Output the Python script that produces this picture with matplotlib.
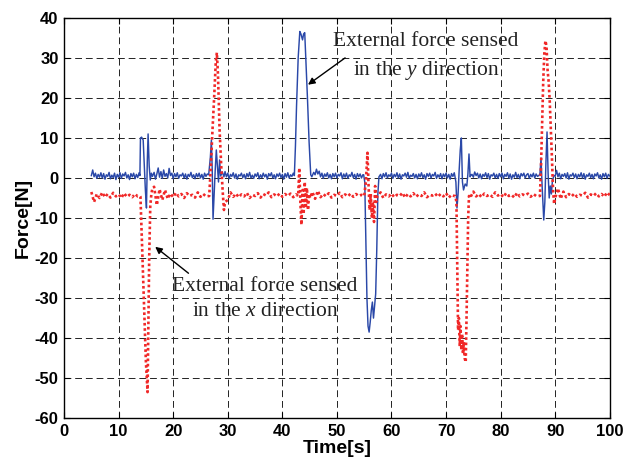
import numpy as np
import matplotlib
matplotlib.use("Agg")
import matplotlib.pyplot as plt

plt.rcParams['mathtext.fontset'] = 'custom'
plt.rcParams['mathtext.rm'] = 'Liberation Serif'
plt.rcParams['mathtext.it'] = 'Liberation Serif:italic'

nan = np.nan

# ---------------- data ----------------
# baseline of the y-direction force, every 0.25 s from 5 s to 100 s
# (nan = covered by an event listed further below)
base_time_y = np.arange(5.0, 100.001, 0.25)
base_force_y = [
    0.6, 2.0, 0.3, 1.2, -0.1, 0.9, 0.2, 1.3, 0.0, 1.1, -0.3, 0.8, 0.4, 1.4, -0.2, 0.7, 0.1, 1.2, -0.4, 0.9,
    0.2, 1.3, -0.1, 1.0, 0.5, 1.4, 0.0, 0.8, -0.4, 1.1, 0.3, 1.2, -0.2, 0.9, 0.1, 1.3, nan, nan, nan, nan,
    nan, nan, nan, nan, nan, 0.5, 1.4, -0.3, 1.0, 2.5, 0.2, 1.6, -0.1, 2.0, 0.4, 1.1, 0.0, 2.4, 0.6, 1.2,
    -0.2, 1.1, 0.3, 1.3, -0.1, 0.8, 0.5, 1.2, 0.0, 1.0, -0.3, 0.9, 0.4, 1.4, 0.1, 0.8, -0.2, 1.1, 0.3, 1.2,
    0.0, 0.9, -0.3, 1.2, 0.4, 1.0, nan, nan, nan, nan, nan, nan, nan, nan, nan, nan, nan, nan, 1.6, 0.3,
    1.2, -0.2, 0.9, 0.4, 1.3, 0.0, 1.0, -0.3, 0.8, 0.5, 1.2, 0.1, 0.9, -0.2, 1.1, 0.3, 1.4, 0.0, 0.7, -0.1,
    1.0, 0.4, 1.3, -0.2, 0.8, 0.1, 1.2, 0.3, 0.9, -0.3, 1.1, 0.5, 1.3, 0.0, 0.8, -0.2, 1.0, 0.4, 1.2, 0.1,
    0.9, -0.3, 1.1, 0.2, 1.3, 0.0, 0.8, 0.4, 1.2, nan, nan, nan, nan, nan, nan, nan, nan, nan, nan, nan,
    nan, nan, 0.6, 1.4, 0.8, 2.2, 1.0, 1.7, 0.3, 1.2, -0.1, 1.0, 0.4, 1.3, 0.0, 0.9, -0.2, 1.1, 0.3, 1.2,
    0.0, 0.9, 0.5, 1.3, -0.2, 1.0, 0.2, 1.2, -0.1, 0.8, 0.4, 1.4, 0.1, 0.9, -0.3, 1.1, 0.3, 1.0, 0.0, 0.8,
    nan, nan, nan, nan, nan, nan, nan, nan, nan, nan, nan, nan, 0.9, -0.2, 1.1, 0.3, 1.3, 0.0, 0.8, 0.4,
    1.2, -0.1, 0.9, 0.3, 1.3, 0.0, 1.0, -0.3, 0.8, 0.5, 1.2, 0.2, 1.4, -0.1, 0.7, 0.4, 1.1, 0.0, 0.9, -0.2,
    1.0, 0.3, 1.3, 0.1, 0.8, -0.3, 1.1, 0.4, 1.2, 0.0, 0.9, 0.5, 1.4, -0.1, 0.8, 0.2, 1.1, -0.2, 1.0, 0.3,
    1.2, 0.0, 0.9, -0.3, 1.1, 0.4, 1.3, nan, nan, nan, nan, nan, nan, nan, nan, nan, nan, nan, nan, 0.9,
    0.2, 1.5, 0.6, 1.2, 0.0, 1.0, -0.2, 0.9, 0.4, 1.3, 0.1, 1.1, -0.3, 0.8, 0.5, 1.2, 0.0, 0.9, -0.1, 1.1,
    0.3, 1.2, -0.2, 0.9, 0.4, 1.3, 0.0, 1.0, -0.3, 0.8, 0.2, 1.4, 0.1, 0.9, -0.2, 1.1, 0.5, 1.2, 0.0, 0.8,
    1.1, -0.1, 0.9, 0.3, 1.2, 0.0, 1.0, 0.4, nan, nan, nan, nan, nan, nan, nan, nan, nan, nan, nan, nan,
    0.5, 1.9, 0.3, 1.2, -0.2, 0.9, 0.4, 1.1, 0.0, 1.3, -0.3, 0.8, 0.5, 1.2, 0.1, 1.0, -0.2, 0.9, 0.3, 1.3,
    0.0, 1.1, -0.3, 0.8, 0.4, 1.2, 0.1, 0.9, -0.2, 1.0, 0.5, 1.3, 0.0, 0.8, -0.3, 1.1, 0.3, 1.2, -0.1, 0.9,
    0.5,
]

# baseline of the x-direction force, every 0.5 s from 5 s to 100 s
base_time_x = np.arange(5.0, 100.01, 0.5)
base_force_x = [
    -3.5, -6.0, -4.0, -5.0, -3.6, -4.8, -4.0, -4.9, -3.7, -4.6,
    -4.1, -5.0, -3.8, -4.7, -4.2, -4.8, -4.0, -4.6, nan, nan,
    nan, nan, nan, -2.2, -6.8, -2.8, -5.5, -3.0, -5.2, -3.9,
    -4.8, -3.7, -4.6, -4.0, -5.0, -3.8, -4.5, -4.2, -4.9, -3.6,
    -4.7, -4.0, -4.6, nan, nan, nan, nan, nan, nan, nan,
    -5.5, -3.6, -4.7, -3.9, -4.8, -4.1, -4.6, -3.7, -5.0, -4.2,
    -4.5, -3.8, -4.9, -4.0, -4.4, -3.6, -4.8, -4.1, -4.6, -3.9,
    -4.7, -4.0, -4.5, -3.9, -4.8, -4.1, nan, nan, nan, nan,
    nan, -3.5, -5.2, -3.2, -4.8, -4.0, -4.6, -3.8, -4.9, -4.2,
    -4.5, -3.7, -4.8, -4.1, -4.6, -3.9, -4.7, -4.0, -4.5, -4.2,
    nan, nan, nan, nan, nan, nan, -3.6, -5.0, -4.1, -4.6,
    -3.9, -4.8, -4.2, -4.5, -3.7, -4.9, -4.0, -4.6, -3.8, -4.7,
    -4.1, -4.5, -3.6, -4.8, -4.2, -4.4, -3.9, -4.7, -4.0, -4.6,
    -3.8, -4.9, -4.2, -4.5, nan, nan, nan, nan, nan, nan,
    -3.4, -4.6, -4.0, -4.8, -3.9, -4.5, -4.1, -4.7, -3.6, -4.4,
    -4.0, -4.8, -3.8, -4.5, -4.2, -4.9, -3.7, -4.6, -4.1, -4.4,
    -3.9, -4.7, -4.0, -4.5, nan, nan, nan, nan, nan, nan,
    -3.6, -2.6, -5.2, -3.4, -4.8, -4.0, -4.6, -3.9, -4.7, -4.2,
    -4.4, -3.7, -4.9, -4.1, -4.5, -3.8, -4.6, -4.0, -4.7, -3.6,
    -4.3,
]

# events: force sensed in the y direction (blue)
ev_y_time = [
    [13.9, 14.0, 14.2, 14.5, 14.7, 14.9, 15.1, 15.25, 15.4, 15.6, 15.8, 16.0, 16.2],
    [26.5, 26.8, 27.0, 27.15, 27.3, 27.5, 27.7, 27.9, 28.1, 28.3, 28.5, 28.7, 29.0, 29.3],
    [42.2, 42.4, 42.6, 42.9, 43.2, 43.4, 43.7, 43.9, 44.1, 44.3, 44.6, 44.9, 45.2, 45.4],
    [54.9, 55.1, 55.3, 55.5, 55.7, 55.9, 56.1, 56.3, 56.5, 56.7, 56.9, 57.1, 57.3, 57.5, 57.7],
    [71.6, 71.8, 72.0, 72.2, 72.4, 72.6, 72.8, 73.0, 73.2, 73.5, 73.8, 74.0, 74.2, 74.4, 74.6],
    [87.0, 87.2, 87.4, 87.6, 87.9, 88.1, 88.3, 88.5, 88.7, 88.9, 89.1, 89.3, 89.5, 89.8],
]
ev_y_force = [
    [0.6, 10.0, 10.2, 9.5, 3.0, -3.0, -7.5, 4.0, 11.0, 3.0, -0.5, 1.2, 0.4],
    [0.8, 5.0, 9.5, 2.0, -10.3, -4.0, 2.0, 7.0, 3.0, -1.0, 4.5, 0.5, 1.5, 0.3],
    [0.6, 8.0, 18.0, 30.0, 36.6, 36.0, 34.5, 36.0, 36.3, 30.0, 20.0, 9.0, 0.8, 0.3],
    [0.8, -1.0, -16.0, -30.0, -37.0, -38.5, -36.0, -33.0, -31.0, -35.0, -32.0, -29.0, -18.0, -4.0, 0.3],
    [0.6, -1.0, -7.5, -4.0, 2.0, 7.0, 10.0, -1.0, -3.0, -1.5, -2.0, 1.0, 6.0, 0.3, 0.8],
    [0.6, 1.0, 5.0, -2.0, -10.5, -6.0, 4.0, 11.5, 1.0, -5.0, -2.0, -4.0, -0.5, 0.6],
]

# events: force sensed in the x direction (red)
ev_x_time = [
    [13.9, 14.0, 14.3, 14.7, 15.0, 15.3, 15.45, 15.6, 15.8, 16.0, 16.2],
    [26.6, 26.9, 27.2, 27.5, 27.8, 28.0, 28.2, 28.5, 28.8, 29.1, 29.3, 29.5],
    [42.9, 43.1, 43.3, 43.5, 43.7, 43.9, 44.1, 44.3, 44.5, 44.7, 44.9, 45.1],
    [55.0, 55.3, 55.6, 55.8, 56.0, 56.2, 56.4, 56.6, 56.8, 57.0, 57.2, 57.4],
    [71.7, 71.9, 72.05, 72.2, 72.35, 72.5, 72.65, 72.8, 72.95, 73.1, 73.25, 73.4,
     73.6, 73.75, 73.9, 74.05, 74.2, 74.4],
    [87.0, 87.2, 87.4, 87.6, 87.8, 88.0, 88.2, 88.4, 88.6, 88.8, 89.0, 89.2,
     89.4, 89.6, 89.8, 90.0],
]
ev_x_force = [
    [-4.5, -4.7, -17.0, -34.0, -46.0, -53.5, -37.0, -20.0, -7.0, -4.0, -2.5],
    [-4.5, 3.0, 12.0, 20.0, 29.0, 31.3, 26.0, 12.0, 3.0, -4.0, -8.0, -6.0],
    [-4.5, 2.5, -6.0, -11.7, -3.0, -9.0, -1.0, -7.5, -2.5, -8.0, -4.0, -5.0],
    [-4.5, -1.0, 6.3, -2.0, -8.0, -4.0, -10.0, -6.0, -11.0, -2.0, -6.0, -4.5],
    [-4.5, -6.0, -22.0, -38.0, -35.0, -42.0, -37.0, -43.0, -39.0, -44.0, -41.0, -45.0,
     -46.0, -35.0, -22.0, -10.0, -4.5, -5.0],
    [-4.5, -4.5, 3.0, 14.0, 24.0, 31.0, 34.3, 33.0, 27.0, 24.0, 19.0, 12.0,
     5.0, -3.0, -6.5, -5.0],
]

x_ticks = [0, 10, 20, 30, 40, 50, 60, 70, 80, 90, 100]
y_ticks = [-60, -50, -40, -30, -20, -10, 0, 10, 20, 30, 40]

label_y = "External force sensed\nin the $\\mathit{y}$ direction"
label_x = "External force sensed\nin the $\\mathit{x}$ direction"


def merge(base_t, base_v, ev_t, ev_v):
    t = np.asarray(base_t, float)
    v = np.asarray(base_v, float)
    keep = ~np.isnan(v)
    for et in ev_t:
        keep &= ~((t >= min(et) - 0.05) & (t <= max(et) + 0.05))
    all_t = list(t[keep])
    all_v = list(v[keep])
    for et, ev in zip(ev_t, ev_v):
        all_t += list(et)
        all_v += list(ev)
    order = np.argsort(all_t, kind="stable")
    return np.asarray(all_t)[order], np.asarray(all_v)[order]


ty, fy = merge(base_time_y, base_force_y, ev_y_time, ev_y_force)
tx, fx = merge(base_time_x, base_force_x, ev_x_time, ev_x_force)

# ---------------- figure ----------------
fig = plt.figure(figsize=(6.28, 4.58), dpi=100)
ax = fig.add_axes([0.102, 0.087, 0.869, 0.874])

ax.plot(ty, fy, color="#2a48a8", lw=1.05, zorder=3)
ax.plot(tx, fx, color="#f02828", lw=1.9, linestyle=(0, (1, 1)), zorder=4)

ax.set_xlim(0, 100)
ax.set_ylim(-60, 40)
ax.set_xticks(x_ticks)
ax.set_yticks(y_ticks)
ax.set_xticklabels([str(v) for v in x_ticks])
ax.set_yticklabels([str(v) for v in y_ticks])

ax.grid(True, color="#222222", linestyle=(0, (7, 4)), linewidth=0.7)
ax.tick_params(direction="in", length=4, width=0.8, top=True, right=True,
               labelsize=12, pad=4, colors="black")
for lab in ax.get_xticklabels() + ax.get_yticklabels():
    lab.set_fontfamily("Liberation Sans")
    lab.set_fontweight("bold")
for sp in ax.spines.values():
    sp.set_linewidth(1.0)
    sp.set_color("black")

ax.set_xlabel("Time[s]", fontfamily="Liberation Sans", fontweight="bold",
              fontsize=14, labelpad=1)
ax.set_ylabel("Force[N]", fontfamily="Liberation Sans", fontweight="bold",
              fontsize=14, labelpad=2)

serif = "Liberation Serif"
arrow_kw = dict(arrowstyle="-|>", color="black", lw=1.0,
                shrinkA=0, shrinkB=0, mutation_scale=10)
ax.text(66.3, 30.2, label_y, ha="center", va="center", fontsize=15.5,
        fontfamily=serif, color="#222222", linespacing=1.45, zorder=6)
ax.annotate("", xy=(44.7, 23.3), xytext=(51.5, 30.0),
            arrowprops=arrow_kw, zorder=6)
ax.text(36.8, -30.2, label_x, ha="center", va="center", fontsize=15.5,
        fontfamily=serif, color="#222222", linespacing=1.45, zorder=6)
ax.annotate("", xy=(16.7, -17.2), xytext=(22.8, -23.8),
            arrowprops=arrow_kw, zorder=6)

fig.savefig("out.png", dpi=100)
